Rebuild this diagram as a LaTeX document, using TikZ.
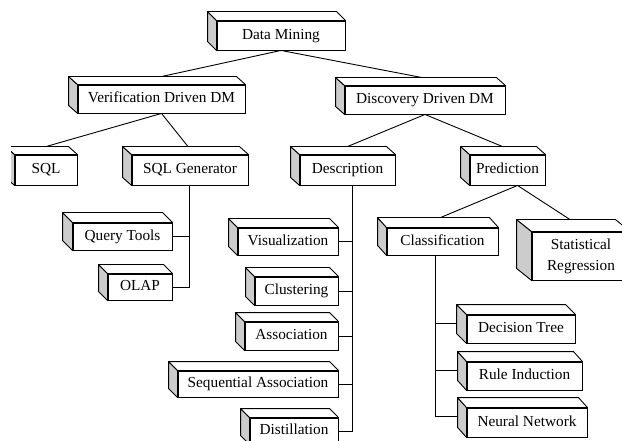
\documentclass[tikz,border=0pt]{standalone}
\usepackage{fontspec}
\setmainfont{Liberation Serif}
\begin{document}
\begin{tikzpicture}[x=1pt,y=-1pt,
  line width=0.9pt,
  every node/.style={font=\fontsize{15.3}{21}\selectfont},
  front/.style={draw, fill=white, inner sep=0pt, align=center},
  oneline/.style={front, text height=10.5pt, text depth=3.4pt},
  link/.style={draw, line width=0.9pt},
  side/.style={draw, fill=gray!40, line join=round},
  lid/.style={draw, fill=white, line join=round}]
\useasboundingbox (0,0) rectangle (622,441);
\clip (11,0) rectangle (622,441);

% front faces of the cuboids
\node[oneline, minimum width=128, minimum height=29] (dm)   at (281,35.5) {Data Mining};
\node[oneline, minimum width=167, minimum height=28] (vd)   at (161.5,99) {Verification Driven DM};
\node[oneline, minimum width=160, minimum height=28] (dd)   at (425,100)  {Discovery Driven DM};
\node[oneline, minimum width=62,  minimum height=30] (sql)  at (46,170)   {SQL};
\node[oneline, minimum width=116, minimum height=30] (sqlg) at (190,170)  {SQL Generator};
\node[oneline, minimum width=95,  minimum height=30] (desc) at (347.5,170) {Description};
\node[oneline, minimum width=75,  minimum height=30] (pred) at (507.5,170) {Prediction};
\node[oneline, minimum width=99,  minimum height=27] (qt)   at (122.5,236.5) {Query Tools};
\node[oneline, minimum width=64,  minimum height=26] (olap) at (140,287)  {OLAP};
\node[oneline, minimum width=100, minimum height=27] (vis)  at (288,241.5) {Visualization};
\node[oneline, minimum width=83,  minimum height=28] (clu)  at (296.5,291) {Clustering};
\node[oneline, minimum width=93,  minimum height=28] (asso) at (291.5,336) {Association};
\node[oneline, minimum width=160, minimum height=26] (seq)  at (258,384)  {Sequential Association};
\node[oneline, minimum width=88,  minimum height=26] (dist) at (294,431)  {Distillation};
\node[oneline, minimum width=111, minimum height=27] (cls)  at (442.5,241.5) {Classification};
\node[front,   minimum width=98,  minimum height=48] (stat) at (581,256)  {Statistical\\Regression};
\node[oneline, minimum width=108, minimum height=28] (dt)   at (521,329)  {Decision Tree};
\node[oneline, minimum width=115, minimum height=28] (ri)   at (524.5,376) {Rule Induction};
\node[oneline, minimum width=120, minimum height=29] (nn)   at (527,422.5) {Neural Network};

% tree links
\draw[link] (dm.south) -- ([shift={(0,-8)}]vd.north);
\draw[link] (dm.south) -- ([shift={(-3,-8)}]dd.north);
\draw[link] (vd.south) -- ([shift={(0,-8)}]sql.north);
\draw[link] (vd.south) -- ([shift={(-2,-8)}]sqlg.north);
\draw[link] (dd.south) -- ([shift={(0,-8)}]desc.north);
\draw[link] (dd.south) -- ([shift={(-5,-8)}]pred.north);
\draw[link] ([xshift=10]pred.south) -- ([shift={(-2,-10)}]cls.north);
\draw[link] ([xshift=10]pred.south) -- ([shift={(-11,-12)}]stat.north);

% SQL Generator spine
\coordinate (gs) at ([xshift=-1]sqlg.south);
\draw[link] (gs) |- (olap.east);
\draw[link] (qt.east) -- (qt.east -| gs);

% Description spine
\coordinate (ds) at ([xshift=5]desc.south);
\draw[link] (ds) |- (dist.east);
\foreach \n in {vis,clu,asso,seq}
  \draw[link] (\n.east) -- (\n.east -| ds);

% Classification spine, reaching the side faces
\coordinate (cs) at ([xshift=-7]cls.south);
\coordinate (dtl) at ([shift={(-10,-6)}]dt.west);
\coordinate (ril) at ([shift={(-9,-6)}]ri.west);
\coordinate (nnl) at ([shift={(-9,-6)}]nn.west);
\draw[link] (cs) |- (nnl);
\draw[link] (dtl) -- (dtl -| cs);
\draw[link] (ril) -- (ril -| cs);

% side and top faces of the cuboids
\foreach \n/\dx/\dy in {dm/9/9, vd/9/8, dd/9/8, sql/9/8, sqlg/9/8, desc/9/8,
    pred/9/8, qt/10/10, olap/9/9, vis/9/9, clu/9/9, asso/9/9, seq/9/9,
    dist/9/9, cls/9/10, stat/15/12, dt/10/10, ri/9/10, nn/9/10} {
  \path[side] (\n.north west) -- ++(-\dx,-\dy)
    -- ([shift={(-\dx,-\dy)}]\n.south west) -- (\n.south west) -- cycle;
  \path[lid] (\n.north west) -- ++(-\dx,-\dy)
    -- ([shift={(-\dx,-\dy)}]\n.north east) -- (\n.north east) -- cycle;
}
\end{tikzpicture}
\end{document}
